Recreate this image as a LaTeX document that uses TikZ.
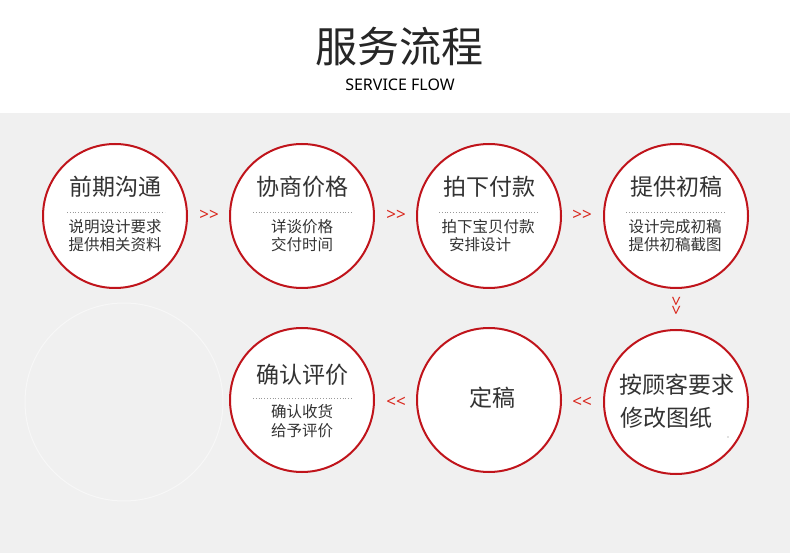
\documentclass[tikz,border=0pt]{standalone}
\usepackage{fontspec}
\setmainfont{Noto Sans CJK SC}
\newfontfamily\latinf{Noto Sans}
\definecolor{ring}{HTML}{C0141B}
\definecolor{arr}{HTML}{D9261C}
\definecolor{bg}{HTML}{F0F0F0}
\definecolor{txt}{HTML}{333333}
\begin{document}
\begin{tikzpicture}[x=1pt,y=-1pt,
  stepcircle/.style={circle,draw=ring,line width=2pt,fill=white,minimum size=144pt,inner sep=0pt},
  head/.style={font=\fontsize{23}{26}\selectfont,text=txt},
  sub/.style={font=\fontsize{15.5}{18}\selectfont,text=txt},
  arrowtxt/.style={font=\latinf\fontsize{17}{17}\selectfont,text=arr},
  sep/.style={draw=gray!80,line width=0.8pt,dotted}]
\useasboundingbox (0,0) rectangle (790,553);
\fill[white] (0,0) rectangle (790,113);
\fill[bg] (0,113) rectangle (790,553);
\node[font=\fontsize{42}{46}\selectfont,text=black!85] (title) at (399,47) {服务流程};
\node[font=\latinf\fontsize{16}{18}\selectfont,text=black] (subtitle) at (400,85) {SERVICE FLOW};
% faint circle
\draw[white!45!bg,line width=1pt] (124,402) circle (99);
% top row
\node[stepcircle] (c1) at (115,216) {};
\node[stepcircle] (c2) at (302,216) {};
\node[stepcircle] (c3) at (489,216) {};
\node[stepcircle] (c4) at (676,216) {};
% bottom row
\node[stepcircle] (c5) at (676,402) {};
\node[stepcircle] (c6) at (489,400) {};
\node[stepcircle] (c7) at (302,400) {};
% c1
\node[head] (h1) at (115,187) {前期沟通};
\draw[sep] (67,212) -- (165,212);
\node[sub] (s1a) at (115,227) {说明设计要求};
\node[sub] (s1b) at (115,245) {提供相关资料};
% c2
\node[head] (h2) at (302,187) {协商价格};
\draw[sep] (253,212) -- (352,212);
\node[sub] (s2a) at (302,227) {详谈价格};
\node[sub] (s2b) at (302,245) {交付时间};
% c3
\node[head] (h3) at (489,187) {拍下付款};
\draw[sep] (439,212) -- (539,212);
\node[sub] (s3a) at (488,227) {拍下宝贝付款};
\node[sub] (s3b) at (480,245) {安排设计};
% c4
\node[head] (h4) at (676,187) {提供初稿};
\draw[sep] (626,212) -- (725,212);
\node[sub] (s4a) at (675,227) {设计完成初稿};
\node[sub] (s4b) at (675,245) {提供初稿截图};
% c5
\node[head] (h5a) at (677,385) {按顾客要求};
\node[head,anchor=west] (h5b) at (617,418) {修改图纸};
% c6
\node[head] (h6) at (492,398) {定稿};
% c7
\node[head] (h7) at (302,375) {确认评价};
\draw[sep] (253,398) -- (352,398);
\node[sub] (s7a) at (302,412) {确认收货};
\node[sub] (s7b) at (302,431) {给予评价};
% arrows
\node[arrowtxt] (a12) at (209,215) {>>};
\node[arrowtxt] (a23) at (396,215) {>>};
\node[arrowtxt] (a34) at (582,215) {>>};
\node[arrowtxt,rotate=-90] (a45) at (676,306) {>>};
\node[arrowtxt] (a56) at (582,402) {<<};
\node[arrowtxt] (a67) at (396,402) {<<};
\fill[gray] (c5.center) ++(52,35) circle (0.7);
\end{tikzpicture}
\end{document}
